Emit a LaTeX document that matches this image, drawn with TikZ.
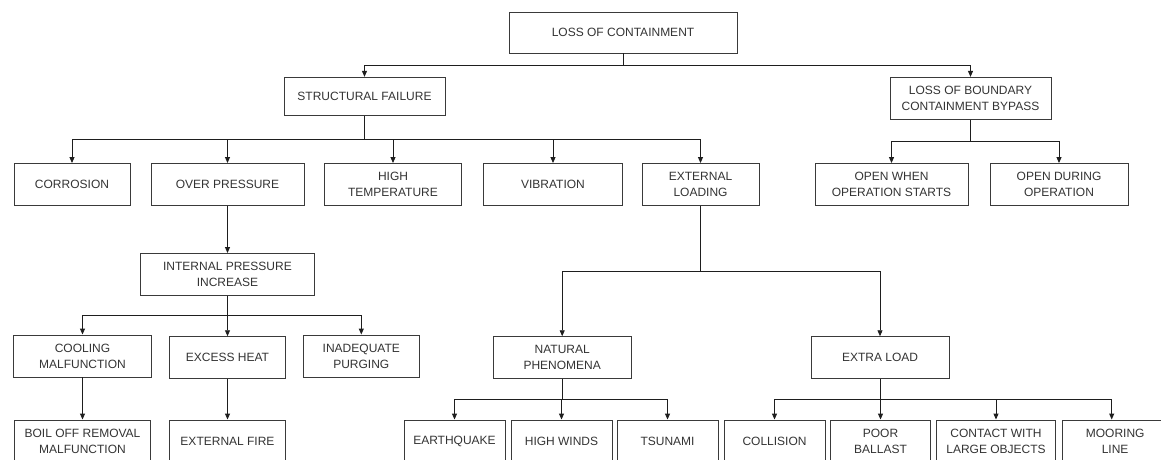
\documentclass[tikz,border=0pt]{standalone}
\usepackage{fontspec}
\setmainfont{Liberation Sans}
\usetikzlibrary{arrows.meta}
\definecolor{txt}{HTML}{333333}
\definecolor{bord}{HTML}{3A3A3A}
\definecolor{conn}{HTML}{1E1E1E}
\begin{document}
\begin{tikzpicture}[x=1pt,y=-1pt,
  box/.style={draw=bord,line width=0.9pt,rectangle,inner sep=0pt,align=center,
    text=txt,font=\fontsize{12}{16}\selectfont,minimum height=42pt},
  arr/.style={draw=conn,line width=0.9pt,-{Triangle[length=6pt,width=5pt]}},
  ln/.style={draw=conn,line width=0.9pt}]
\useasboundingbox (0,0) rectangle (1161,460);
\clip (0,0) rectangle (1161,460);
% level 0
\node[box,minimum width=228pt,minimum height=41pt] (loc) at (623,32.5) {LOSS OF CONTAINMENT};
% level 1
\node[box,minimum width=161pt,minimum height=38pt] (sf) at (364.5,96.3) {STRUCTURAL FAILURE};
\node[box,minimum width=161pt,minimum height=41.7pt] (lob) at (970.5,98.2) {LOSS OF BOUNDARY\\CONTAINMENT BYPASS};
% level 2
\node[box,minimum width=116pt] (cor) at (72,184.5) {CORROSION};
\node[box,minimum width=153pt] (op) at (227.5,184.5) {OVER PRESSURE};
\node[box,minimum width=137.5pt] (ht) at (393,184.5) {HIGH\\TEMPERATURE};
\node[box,minimum width=138.5pt] (vib) at (553,184.5) {VIBRATION};
\node[box,minimum width=117pt] (el) at (700.5,184.5) {EXTERNAL\\LOADING};
\node[box,minimum width=153pt] (ows) at (891.5,184.5) {OPEN WHEN\\OPERATION STARTS};
\node[box,minimum width=138pt] (odo) at (1059,184.5) {OPEN DURING\\OPERATION};
% level 3
\node[box,minimum width=174pt] (ipi) at (227.5,274.5) {INTERNAL PRESSURE\\INCREASE};
\node[box,minimum width=138pt] (cool) at (82.5,356) {COOLING\\MALFUNCTION};
\node[box,minimum width=116.6pt] (eh) at (227.5,357.7) {EXCESS HEAT};
\node[box,minimum width=116.5pt] (ip) at (361.3,356) {INADEQUATE\\PURGING};
\node[box,minimum width=138.4pt] (np) at (562.2,357.7) {NATURAL\\PHENOMENA};
\node[box,minimum width=138pt] (xl) at (880,357.7) {EXTRA LOAD};
% level 4
\node[box,minimum width=136.3pt] (boil) at (82.5,441) {BOIL OFF REMOVAL\\MALFUNCTION};
\node[box,minimum width=116.6pt] (ef) at (227.5,441) {EXTERNAL FIRE};
\node[box,minimum width=101pt] (eq) at (454.5,441) {EARTHQUAKE};
\node[box,minimum width=101pt] (hw) at (561.5,441) {HIGH WINDS};
\node[box,minimum width=101pt] (ts) at (667.5,441) {TSUNAMI};
\node[box,minimum width=101pt] (col) at (774.5,441) {COLLISION};
\node[box,minimum width=100pt] (pb) at (880.5,441) {POOR\\BALLAST};
\node[box,minimum width=118.5pt] (cw) at (996,441) {CONTACT WITH\\LARGE OBJECTS};
\node[box,minimum width=106pt,anchor=west,text width=100pt] (ml) at (1061.7,441) {MOORING\\LINE};
% bus coordinates
\coordinate (b0) at (623,65.7);
\coordinate (b1) at (364.5,139.3);
\coordinate (b2) at (970.5,141.7);
\coordinate (b3) at (227.5,315.7);
\coordinate (b4) at (700.5,271);
\coordinate (b5) at (562.2,399.3);
\coordinate (b6) at (880,399.3);
% connectors
\draw[ln] (loc.south) -- (b0);
\draw[arr] (b0) -| (sf.north);
\draw[arr] (b0) -| (lob.north);
\draw[ln] (sf.south) -- (b1);
\foreach \c in {cor,op,ht,vib,el} \draw[arr] (b1) -| (\c.north);
\draw[ln] (lob.south) -- (b2);
\foreach \c in {ows,odo} \draw[arr] (b2) -| (\c.north);
\draw[arr] (op.south) -- (ipi.north);
\draw[ln] (ipi.south) -- (b3);
\foreach \c in {cool,eh,ip} \draw[arr] (b3) -| (\c.north);
\draw[arr] (cool.south) -- (boil.north);
\draw[arr] (eh.south) -- (ef.north);
\draw[ln] (el.south) -- (b4);
\foreach \c in {np,xl} \draw[arr] (b4) -| (\c.north);
\draw[ln] (np.south) -- (b5);
\foreach \c in {eq,hw,ts} \draw[arr] (b5) -| (\c.north);
\draw[ln] (xl.south) -- (b6);
\foreach \c in {col,pb,cw} \draw[arr] (b6) -| (\c.north);
\draw[arr] (b6) -| ([xshift=50pt]ml.north west);
\end{tikzpicture}
\end{document}
